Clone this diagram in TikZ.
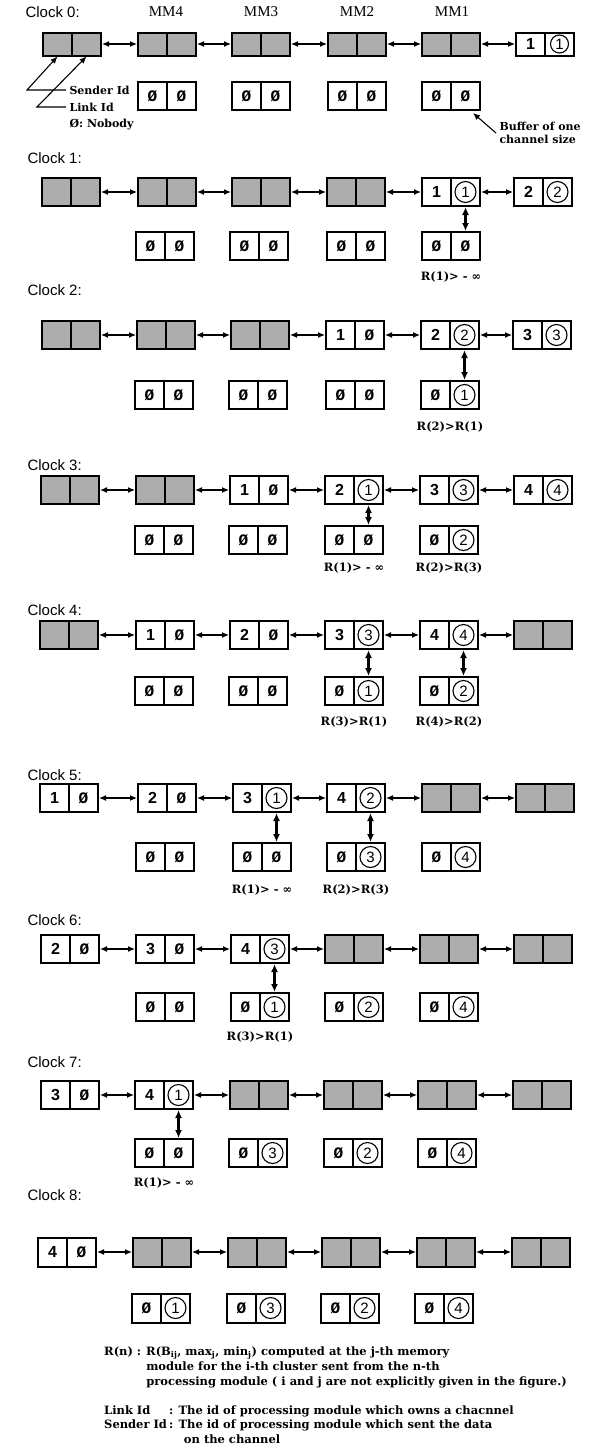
\documentclass[tikz,border=0pt]{standalone}
\usepackage{fontspec}
\setmainfont{Liberation Serif}
\setsansfont{Liberation Sans}
\newfontfamily\annfont{DejaVu Serif}
\newfontfamily\zerofont{Liberation Mono}
\usetikzlibrary{arrows.meta,calc}
\newcommand\ZZ{{\zerofont\bfseries Ø}}
\newcommand\bx[6]{%
  \node[cell,minimum height=#4] (#1-L) at ({#2-14.5},#3) {#5};
  \node[cell,minimum height=#4] (#1-R) at ({#2+14.5},#3) {#6};}
\newcommand\sbx[4]{%
  \node[cell,grey,minimum height=#4] (#1-L) at ({#2-14.5},#3) {};
  \node[cell,grey,minimum height=#4] (#1-R) at ({#2+14.5},#3) {};}
\newcommand\cbx[6]{%
  \bx{#1}{#2}{#3}{#4}{#5}{}%
  \node[circnum] (#1-C) at (#1-R) {#6};}
\tikzset{
  cell/.style={draw,line width=2pt,minimum width=29pt,inner sep=0pt,
    font=\sffamily\bfseries\fontsize{16}{16}\selectfont},
  grey/.style={fill=black!32},
  circnum/.style={circle,draw,line width=1.1pt,minimum size=21pt,inner sep=0pt,
    font=\sffamily\fontsize{15}{15}\selectfont},
  link/.style={{Latex[length=7pt,width=6pt]}-{Latex[length=7pt,width=6pt]},line width=1.2pt},
  vlink/.style={{Latex[length=8pt,width=7pt]}-{Latex[length=8pt,width=7pt]},line width=2.4pt},
  pointer/.style={-{Latex[length=7pt,width=6pt]},line width=1.1pt},
  clk/.style={anchor=west,font=\sffamily\fontsize{15}{15}\selectfont},
  mm/.style={font=\rmfamily\fontsize{15}{15}\selectfont},
  ann/.style={font=\annfont\bfseries\fontsize{11}{13}\selectfont},
  rlab/.style={font=\annfont\bfseries\fontsize{11.5}{11.5}\selectfont},
  btxt/.style={inner sep=0pt,font=\annfont\bfseries\fontsize{11.5}{15}\selectfont},
}
\begin{document}
\begin{tikzpicture}[x=1pt,y=-1pt]
\useasboundingbox (0,0) rectangle (592,1451);
% ---------------- Clock 0
\node[clk] (c0) at (22,12) {Clock 0:};
\node[mm] (mm4) at (166,12) {MM4};
\node[mm] (mm3) at (261,12) {MM3};
\node[mm] (mm2) at (357,12) {MM2};
\node[mm] (mm1) at (452,12) {MM1};
\sbx{t0-1}{72}{44}{23pt}
\sbx{t0-2}{167}{44}{23pt}
\sbx{t0-3}{261}{44}{23pt}
\sbx{t0-4}{357}{44}{23pt}
\sbx{t0-5}{451}{44}{23pt}
\bx{t0-6}{545}{44}{23pt}{1}{}
\node[circnum,minimum size=18pt] (t0-6-C) at (t0-6-R) {1};
\bx{b0-2}{167}{96}{28pt}{\ZZ}{\ZZ}
\bx{b0-3}{261}{96}{28pt}{\ZZ}{\ZZ}
\bx{b0-4}{357}{96}{28pt}{\ZZ}{\ZZ}
\bx{b0-5}{451}{96}{28pt}{\ZZ}{\ZZ}
\node[ann,anchor=west] (snd) at (66,90) {Sender Id};
\node[ann,anchor=west] (lnk) at (66,107) {Link Id};
\node[ann,anchor=west] (nob) at (66,125) {Ø: Nobody};
\coordinate (sndk) at (27,90);
\coordinate (lnkk) at (37,107);
\draw[pointer] (snd.west) -- (sndk) -- (t0-1-L.south);
\draw[pointer] (lnk.west) -- (lnkk) -- (t0-1-R.south);
\node[ann,anchor=west,align=left] (buf) at (496,133) {Buffer of one\\channel size};
\draw[pointer] (buf.west) -- ([xshift=-8pt,yshift=-2pt]b0-5-R.south east);
% ---------------- Clock 1
\node[clk] (c1) at (24,158) {Clock 1:};
\sbx{t1-1}{71}{192}{28pt}
\sbx{t1-2}{167}{192}{28pt}
\sbx{t1-3}{261}{192}{28pt}
\sbx{t1-4}{356}{192}{28pt}
\cbx{t1-5}{451}{192}{28pt}{1}{1}
\cbx{t1-6}{543}{192}{28pt}{2}{2}
\bx{b1-2}{165}{246}{28pt}{\ZZ}{\ZZ}
\bx{b1-3}{259}{246}{28pt}{\ZZ}{\ZZ}
\bx{b1-4}{356}{246}{28pt}{\ZZ}{\ZZ}
\bx{b1-5}{451}{246}{28pt}{\ZZ}{\ZZ}
\draw[vlink] (t1-5-R.south) -- (b1-5-R.north);
\node[rlab] (r1-5) at (451,277) {R(1)> - ∞};
% ---------------- Clock 2
\node[clk] (c2) at (24,290) {Clock 2:};
\sbx{t2-1}{71}{335}{28pt}
\sbx{t2-2}{166}{335}{28pt}
\sbx{t2-3}{260}{335}{28pt}
\bx{t2-4}{355}{335}{28pt}{1}{\ZZ}
\cbx{t2-5}{450}{335}{28pt}{2}{2}
\cbx{t2-6}{542}{335}{28pt}{3}{3}
\bx{b2-2}{164}{395}{28pt}{\ZZ}{\ZZ}
\bx{b2-3}{258}{395}{28pt}{\ZZ}{\ZZ}
\bx{b2-4}{355}{395}{28pt}{\ZZ}{\ZZ}
\cbx{b2-5}{450}{395}{28pt}{\ZZ}{1}
\draw[vlink] (t2-5-R.south) -- (b2-5-R.north);
\node[rlab] (r2-5) at (450,427) {R(2)>R(1)};
% ---------------- Clock 3
\node[clk] (c3) at (24,465) {Clock 3:};
\sbx{t3-1}{70}{490}{28pt}
\sbx{t3-2}{165}{490}{28pt}
\bx{t3-3}{259}{490}{28pt}{1}{\ZZ}
\cbx{t3-4}{354}{490}{28pt}{2}{1}
\cbx{t3-5}{449}{490}{28pt}{3}{3}
\cbx{t3-6}{543}{490}{28pt}{4}{4}
\bx{b3-2}{164}{540}{28pt}{\ZZ}{\ZZ}
\bx{b3-3}{258}{540}{28pt}{\ZZ}{\ZZ}
\bx{b3-4}{354}{540}{28pt}{\ZZ}{\ZZ}
\cbx{b3-5}{449}{540}{28pt}{\ZZ}{2}
\draw[vlink] (t3-4-R.south) -- (b3-4-R.north);
\node[rlab] (r3-4) at (354,568) {R(1)> - ∞};
\node[rlab] (r3-5) at (449,568) {R(2)>R(3)};
% ---------------- Clock 4
\node[clk] (c4) at (24,610) {Clock 4:};
\sbx{t4-1}{69}{635}{28pt}
\bx{t4-2}{165}{635}{28pt}{1}{\ZZ}
\bx{t4-3}{259}{635}{28pt}{2}{\ZZ}
\cbx{t4-4}{354}{635}{28pt}{3}{3}
\cbx{t4-5}{449}{635}{28pt}{4}{4}
\sbx{t4-6}{543}{635}{28pt}
\bx{b4-2}{164}{691}{28pt}{\ZZ}{\ZZ}
\bx{b4-3}{258}{691}{28pt}{\ZZ}{\ZZ}
\cbx{b4-4}{354}{691}{28pt}{\ZZ}{1}
\cbx{b4-5}{449}{691}{28pt}{\ZZ}{2}
\draw[vlink] (t4-4-R.south) -- (b4-4-R.north);
\draw[vlink] (t4-5-R.south) -- (b4-5-R.north);
\node[rlab] (r4-4) at (354,722) {R(3)>R(1)};
\node[rlab] (r4-5) at (449,722) {R(4)>R(2)};
% ---------------- Clock 5
\node[clk] (c5) at (24,775) {Clock 5:};
\bx{t5-1}{69}{798}{28pt}{1}{\ZZ}
\bx{t5-2}{167}{798}{28pt}{2}{\ZZ}
\cbx{t5-3}{262}{798}{28pt}{3}{1}
\cbx{t5-4}{356}{798}{28pt}{4}{2}
\sbx{t5-5}{451}{798}{28pt}
\sbx{t5-6}{545}{798}{28pt}
\bx{b5-2}{165}{857}{28pt}{\ZZ}{\ZZ}
\bx{b5-3}{262}{857}{28pt}{\ZZ}{\ZZ}
\cbx{b5-4}{356}{857}{28pt}{\ZZ}{3}
\cbx{b5-5}{451}{857}{28pt}{\ZZ}{4}
\draw[vlink] (t5-3-R.south) -- (b5-3-R.north);
\draw[vlink] (t5-4-R.south) -- (b5-4-R.north);
\node[rlab] (r5-3) at (262,890) {R(1)> - ∞};
\node[rlab] (r5-4) at (356,890) {R(2)>R(3)};
% ---------------- Clock 6
\node[clk] (c6) at (24,920) {Clock 6:};
\bx{t6-1}{70}{949}{28pt}{2}{\ZZ}
\bx{t6-2}{165}{949}{28pt}{3}{\ZZ}
\cbx{t6-3}{260}{949}{28pt}{4}{3}
\sbx{t6-4}{354}{949}{28pt}
\sbx{t6-5}{449}{949}{28pt}
\sbx{t6-6}{543}{949}{28pt}
\bx{b6-2}{165}{1007}{28pt}{\ZZ}{\ZZ}
\cbx{b6-3}{260}{1007}{28pt}{\ZZ}{1}
\cbx{b6-4}{354}{1007}{28pt}{\ZZ}{2}
\cbx{b6-5}{449}{1007}{28pt}{\ZZ}{4}
\draw[vlink] (t6-3-R.south) -- (b6-3-R.north);
\node[rlab] (r6-3) at (260,1037) {R(3)>R(1)};
% ---------------- Clock 7
\node[clk] (c7) at (24,1062) {Clock 7:};
\bx{t7-1}{70}{1095}{28pt}{3}{\ZZ}
\cbx{t7-2}{164}{1095}{28pt}{4}{1}
\sbx{t7-3}{259}{1095}{28pt}
\sbx{t7-4}{353}{1095}{28pt}
\sbx{t7-5}{447}{1095}{28pt}
\sbx{t7-6}{542}{1095}{28pt}
\bx{b7-2}{164}{1153}{28pt}{\ZZ}{\ZZ}
\cbx{b7-3}{258}{1153}{28pt}{\ZZ}{3}
\cbx{b7-4}{353}{1153}{28pt}{\ZZ}{2}
\cbx{b7-5}{447}{1153}{28pt}{\ZZ}{4}
\draw[vlink] (t7-2-R.south) -- (b7-2-R.north);
\node[rlab] (r7-2) at (164,1183) {R(1)> - ∞};
% ---------------- Clock 8
\node[clk] (c8) at (24,1195) {Clock 8:};
\bx{t8-1}{67}{1252}{29pt}{4}{\ZZ}
\sbx{t8-2}{162}{1252}{29pt}
\sbx{t8-3}{257}{1252}{29pt}
\sbx{t8-4}{351}{1252}{29pt}
\sbx{t8-5}{446}{1252}{29pt}
\sbx{t8-6}{541}{1252}{29pt}
\cbx{b8-2}{161}{1308}{29pt}{\ZZ}{1}
\cbx{b8-3}{256}{1308}{29pt}{\ZZ}{3}
\cbx{b8-4}{350}{1308}{29pt}{\ZZ}{2}
\cbx{b8-5}{444}{1308}{29pt}{\ZZ}{4}
% ---------------- horizontal links
\foreach \r in {0,...,8}{
  \foreach \c/\n in {1/2,2/3,3/4,4/5,5/6}{
    \draw[link] (t\r-\c-R.east) -- (t\r-\n-L.west);
  }
}
% ---------------- legend
\node[btxt,anchor=north west] (defR) at (104,1345) {%
  \begin{tabular}{@{}l@{\hspace{5pt}}l@{}}
  R(n) : & R(B\textsubscript{ij}, max\textsubscript{j}, min\textsubscript{j})  computed at the j-th memory\\
  & module for the i-th cluster sent from the n-th\\
  & processing module ( i and j are not explicitly given in the figure.)
  \end{tabular}};
\node[btxt,anchor=north west,font=\annfont\bfseries\fontsize{11.5}{14.5}\selectfont] (defL) at (104,1404) {%
  \begin{tabular}{@{}l@{\hspace{2pt}}l@{}}
  Link Id & : The id of processing module which owns a chacnnel\\
  Sender Id & : The id of processing module which sent the data\\
  & \hspace{1.3em}on the channel
  \end{tabular}};
\end{tikzpicture}
\end{document}
